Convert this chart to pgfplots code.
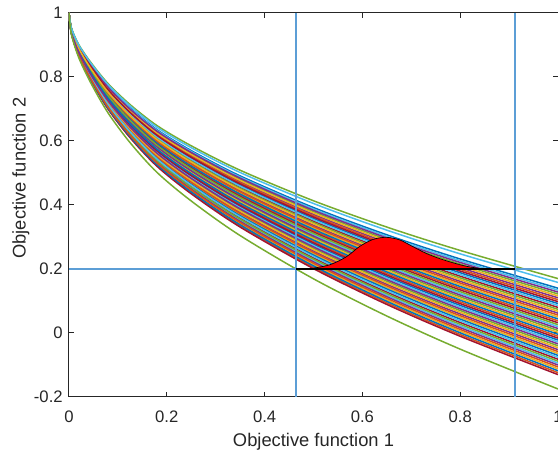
\documentclass[border=0pt]{standalone}
\usepackage{pgfplots}
\pgfplotsset{compat=1.18}
\usepackage{pgfplotstable}
\usepackage{fontspec}
\setmainfont{Liberation Sans}

% MATLAB default line colours
\definecolor{mB}{rgb}{0,0.447,0.741}
\definecolor{mO}{rgb}{0.85,0.325,0.098}
\definecolor{mY}{rgb}{0.929,0.694,0.125}
\definecolor{mP}{rgb}{0.494,0.184,0.556}
\definecolor{mG}{rgb}{0.466,0.674,0.188}
\definecolor{mC}{rgb}{0.301,0.745,0.933}
\definecolor{mR}{rgb}{0.635,0.078,0.184}
\definecolor{refl}{rgb}{0.36,0.62,0.84}

% front curves: one column per curve
\pgfplotstableread{
x c0 c1 c2 c3 c4 c5 c6 c7 c8 c9 c10 c11 c12 c13 c14 c15 c16 c17 c18 c19 c20 c21 c22 c23 c24 c25 c26 c27 c28 c29 c30 c31 c32 c33 c34 c35 c36 c37 c38 c39 c40 c41 c42 c43 c44 c45 t1 t2 b1
0 1 1 1 1 1 1 1 1 1 1 1 1 1 1 1 1 1 1 1 1 1 1 1 1 1 1 1 1 1 1 1 1 1 1 1 1 1 1 1 1 1 1 1 1 1 1 1 1 1
0.005 0.9510 0.9506 0.9503 0.9500 0.9496 0.9493 0.9489 0.9486 0.9482 0.9479 0.9476 0.9472 0.9469 0.9465 0.9462 0.9459 0.9455 0.9452 0.9448 0.9445 0.9441 0.9438 0.9435 0.9431 0.9428 0.9424 0.9421 0.9417 0.9414 0.9411 0.9407 0.9404 0.9400 0.9397 0.9394 0.9390 0.9387 0.9383 0.9380 0.9376 0.9373 0.9370 0.9366 0.9363 0.9359 0.9356 0.9527 0.9520 0.9330
0.02 0.8977 0.8969 0.8962 0.8955 0.8948 0.8941 0.8934 0.8927 0.8919 0.8912 0.8905 0.8898 0.8891 0.8884 0.8877 0.8870 0.8862 0.8855 0.8848 0.8841 0.8834 0.8827 0.8820 0.8812 0.8805 0.8798 0.8791 0.8784 0.8777 0.8770 0.8762 0.8755 0.8748 0.8741 0.8734 0.8727 0.8720 0.8712 0.8705 0.8698 0.8691 0.8684 0.8677 0.8670 0.8662 0.8655 0.9012 0.8998 0.8602
0.045 0.8392 0.8381 0.8369 0.8358 0.8347 0.8336 0.8325 0.8313 0.8302 0.8291 0.8280 0.8268 0.8257 0.8246 0.8235 0.8224 0.8212 0.8201 0.8190 0.8179 0.8167 0.8156 0.8145 0.8134 0.8123 0.8111 0.8100 0.8089 0.8078 0.8066 0.8055 0.8044 0.8033 0.8022 0.8010 0.7999 0.7988 0.7977 0.7965 0.7954 0.7943 0.7932 0.7921 0.7909 0.7898 0.7887 0.8448 0.8425 0.7803
0.08 0.7712 0.7696 0.7680 0.7665 0.7649 0.7633 0.7617 0.7601 0.7585 0.7569 0.7553 0.7537 0.7521 0.7505 0.7489 0.7473 0.7457 0.7441 0.7425 0.7409 0.7393 0.7377 0.7361 0.7345 0.7329 0.7313 0.7297 0.7282 0.7266 0.7250 0.7234 0.7218 0.7202 0.7186 0.7170 0.7154 0.7138 0.7122 0.7106 0.7090 0.7074 0.7058 0.7042 0.7026 0.7010 0.6994 0.7792 0.7760 0.6875
0.125 0.7033 0.7012 0.6992 0.6971 0.6950 0.6930 0.6909 0.6888 0.6867 0.6847 0.6826 0.6805 0.6785 0.6764 0.6743 0.6723 0.6702 0.6681 0.6660 0.6640 0.6619 0.6598 0.6578 0.6557 0.6536 0.6516 0.6495 0.6474 0.6453 0.6433 0.6412 0.6391 0.6371 0.6350 0.6329 0.6309 0.6288 0.6267 0.6246 0.6226 0.6205 0.6184 0.6164 0.6143 0.6122 0.6102 0.7137 0.7095 0.5946
0.18 0.6354 0.6328 0.6303 0.6277 0.6252 0.6226 0.6201 0.6176 0.6150 0.6125 0.6099 0.6074 0.6048 0.6023 0.5997 0.5972 0.5947 0.5921 0.5896 0.5870 0.5845 0.5819 0.5794 0.5768 0.5743 0.5718 0.5692 0.5667 0.5641 0.5616 0.5590 0.5565 0.5540 0.5514 0.5489 0.5463 0.5438 0.5412 0.5387 0.5361 0.5336 0.5311 0.5285 0.5260 0.5234 0.5209 0.6481 0.6430 0.5018
0.25 0.5700 0.5670 0.5640 0.5610 0.5580 0.5550 0.5520 0.5490 0.5460 0.5430 0.5400 0.5370 0.5340 0.5310 0.5280 0.5250 0.5220 0.5190 0.5160 0.5130 0.5100 0.5070 0.5040 0.5010 0.4980 0.4950 0.4920 0.4890 0.4860 0.4830 0.4800 0.4770 0.4740 0.4710 0.4680 0.4650 0.4620 0.4590 0.4560 0.4530 0.4500 0.4470 0.4440 0.4410 0.4380 0.4350 0.5850 0.5790 0.4125
0.35 0.4909 0.4873 0.4838 0.4802 0.4767 0.4731 0.4696 0.4660 0.4625 0.4589 0.4554 0.4518 0.4483 0.4447 0.4412 0.4376 0.4341 0.4305 0.4269 0.4234 0.4198 0.4163 0.4127 0.4092 0.4056 0.4021 0.3985 0.3950 0.3914 0.3879 0.3843 0.3808 0.3772 0.3737 0.3701 0.3666 0.3630 0.3595 0.3559 0.3524 0.3488 0.3453 0.3417 0.3381 0.3346 0.3310 0.5086 0.5015 0.3044
0.5 0.3920 0.3877 0.3835 0.3793 0.3750 0.3708 0.3665 0.3623 0.3580 0.3538 0.3496 0.3453 0.3411 0.3368 0.3326 0.3284 0.3241 0.3199 0.3156 0.3114 0.3071 0.3029 0.2987 0.2944 0.2902 0.2859 0.2817 0.2774 0.2732 0.2690 0.2647 0.2605 0.2562 0.2520 0.2478 0.2435 0.2393 0.2350 0.2308 0.2265 0.2223 0.2181 0.2138 0.2096 0.2053 0.2011 0.4132 0.4047 0.1693
0.65 0.3068 0.3020 0.2972 0.2923 0.2875 0.2827 0.2778 0.2730 0.2682 0.2633 0.2585 0.2536 0.2488 0.2440 0.2391 0.2343 0.2295 0.2246 0.2198 0.2150 0.2101 0.2053 0.2005 0.1956 0.1908 0.1859 0.1811 0.1763 0.1714 0.1666 0.1618 0.1569 0.1521 0.1473 0.1424 0.1376 0.1327 0.1279 0.1231 0.1182 0.1134 0.1086 0.1037 0.0989 0.0941 0.0892 0.3310 0.3213 0.0530
0.8 0.2312 0.2258 0.2204 0.2151 0.2097 0.2043 0.1990 0.1936 0.1882 0.1829 0.1775 0.1722 0.1668 0.1614 0.1561 0.1507 0.1453 0.1400 0.1346 0.1292 0.1239 0.1185 0.1131 0.1078 0.1024 0.0971 0.0917 0.0863 0.0810 0.0756 0.0702 0.0649 0.0595 0.0541 0.0488 0.0434 0.0381 0.0327 0.0273 0.0220 0.0166 0.0112 0.0059 0.0005 -0.0049 -0.0102 0.2580 0.2473 -0.0505
1 0.140 0.134 0.128 0.122 0.116 0.110 0.104 0.098 0.092 0.086 0.080 0.074 0.068 0.062 0.056 0.050 0.044 0.038 0.032 0.026 0.020 0.014 0.008 0.002 -0.004 -0.010 -0.016 -0.022 -0.028 -0.034 -0.040 -0.046 -0.052 -0.058 -0.064 -0.070 -0.076 -0.082 -0.088 -0.094 -0.100 -0.106 -0.112 -0.118 -0.124 -0.130 0.170 0.158 -0.175
}\curves

\begin{document}
\begin{tikzpicture}
\begin{axis}[
    name=ax,
    width=293.4pt, height=230.4pt, scale only axis,
    xmin=0, xmax=1, ymin=-0.2, ymax=1,
    xtick={0,0.2,0.4,0.6,0.8,1}, xticklabels={0,0.2,0.4,0.6,0.8,1},
    ytick={-0.2,0,0.2,0.4,0.6,0.8,1}, yticklabels={-0.2,0,0.2,0.4,0.6,0.8,1},
    tick align=inside, major tick length=2.8pt,
    axis line style={black!85, line width=0.6pt},
    tick style={black!85, line width=0.6pt},
    ticklabel style={font=\fontsize{10}{12}\selectfont, text=black!85},
    xticklabel style={inner sep=0pt, anchor=north, yshift=-8pt},
    yticklabel style={inner sep=0pt, anchor=east, xshift=-3.6pt},
    xlabel={Objective function 1}, ylabel={Objective function 2},
    label style={font=\fontsize{11}{13}\selectfont, text=black!85, inner sep=0pt},
    xlabel style={at={(axis description cs:0.5,-0.0938)}, anchor=north},
    ylabel style={at={(axis description cs:-0.1166,0.57)}, anchor=north},
    cycle list={{mB},{mO},{mY},{mP},{mG},{mC},{mR}},
    no markers,
    every axis plot/.append style={line width=0.9pt},
]
\pgfplotsinvokeforeach{c0,c17,c34,c5,c22,c39,c10,c27,c44,c15,c32,c3,c20,c37,c8,c25,c42,c13,c30,c1,c18,c35,c6,c23,c40,c11,c28,c45,c16,c33,c4,c21,c38,c9,c26,c43,c14,c31,c2,c19,c36,c7,c24,c41,c12,c29}{
  \addplot+[smooth] table[x=x, y=#1] {\curves};
}
\addplot[mG, smooth] table[x=x, y=t1] {\curves};
\addplot[mC, smooth] table[x=x, y=t2] {\curves};
\addplot[mG, smooth] table[x=x, y=b1] {\curves};

% red bump above the constraint line
\addplot[draw=black, fill=red, line width=0.4pt, smooth] coordinates {
  (0.49,0.2) (0.533,0.213) (0.567,0.238) (0.594,0.27) (0.621,0.292)
  (0.648,0.299) (0.676,0.291) (0.703,0.27) (0.730,0.249) (0.757,0.233)
  (0.784,0.22) (0.811,0.209) (0.839,0.202) (0.866,0.2)} -- cycle;

% reference lines
\addplot[refl, line width=1pt] coordinates {(0,0.2) (1,0.2)};
\addplot[refl, line width=1pt] coordinates {(0.4645,-0.2) (0.4645,1)};
\addplot[refl, line width=1pt] coordinates {(0.912,-0.2) (0.912,1)};
\addplot[black, line width=0.7pt] coordinates {(0.4645,0.2) (0.912,0.2)};
\end{axis}
\pgfresetboundingbox
\useasboundingbox ([xshift=-41.4pt,yshift=-33.6pt]ax.south west) rectangle ([yshift=7.8pt]ax.north east);
\end{tikzpicture}
\end{document}
